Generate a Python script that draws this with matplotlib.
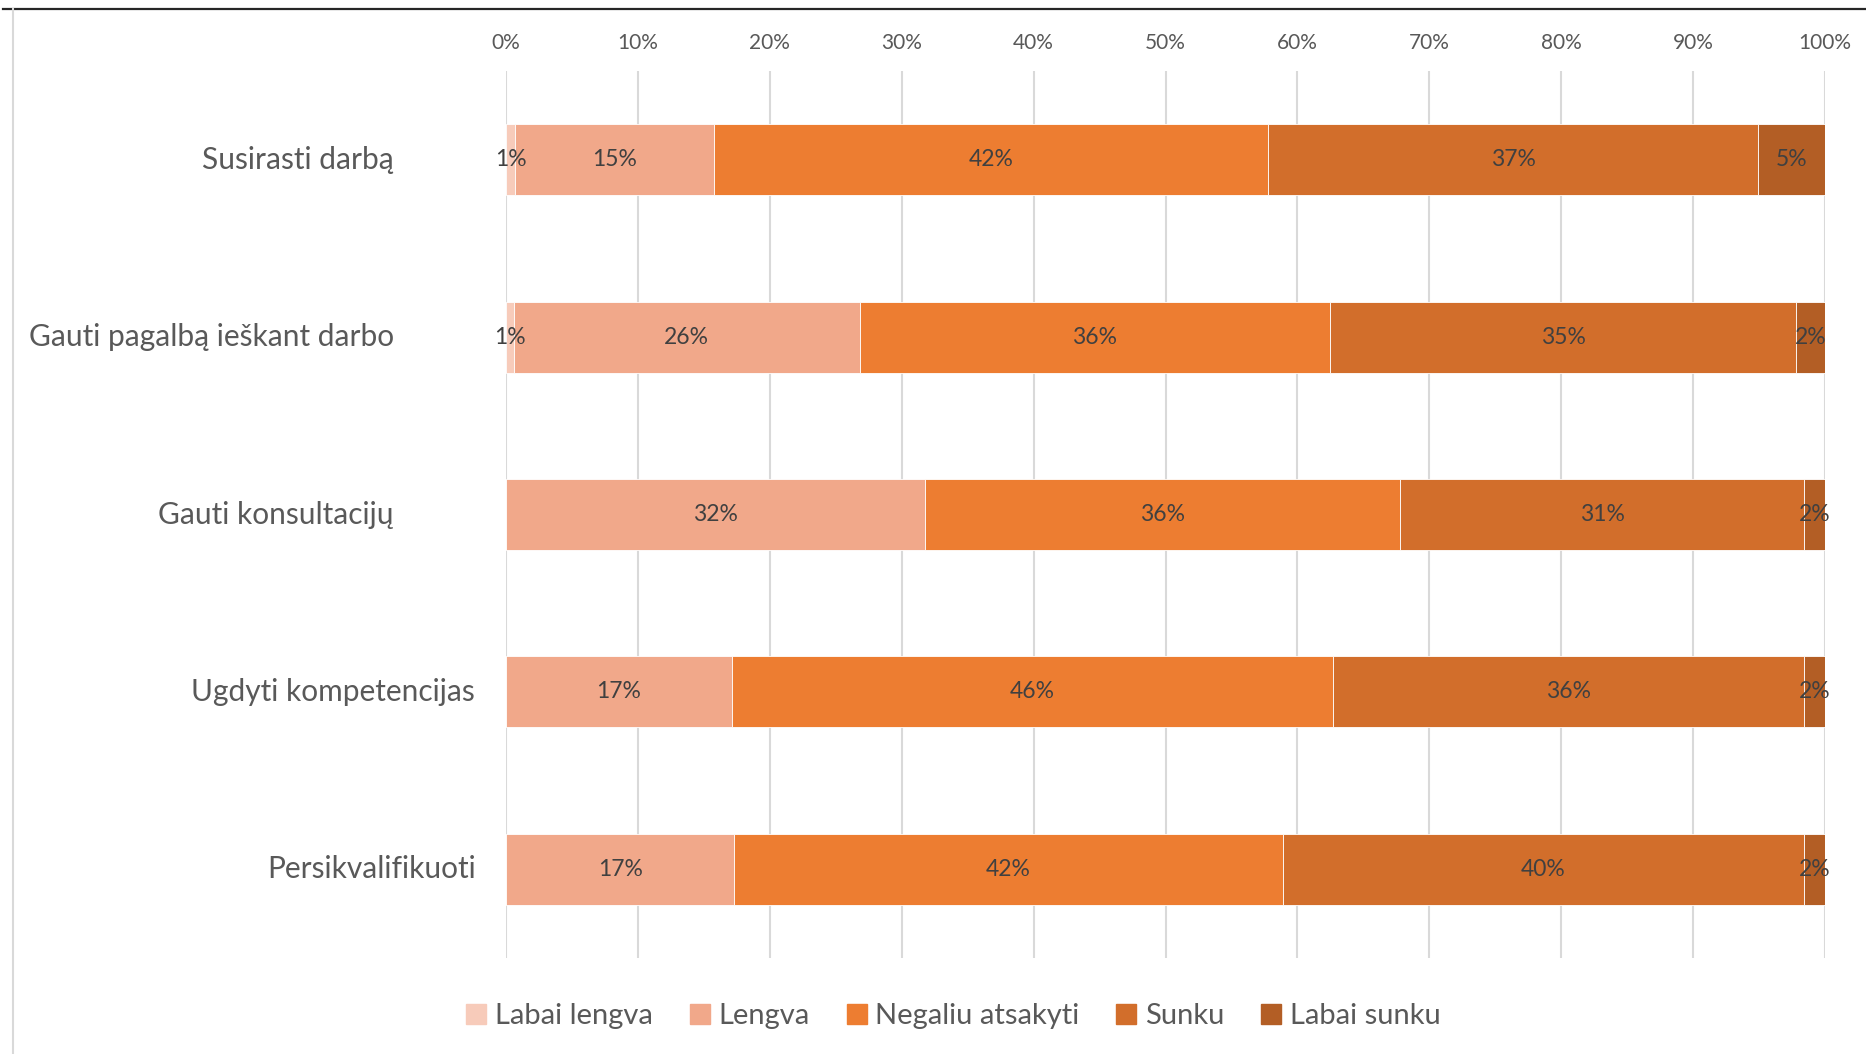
import matplotlib.pyplot as plt
from matplotlib.lines import Line2D
import numpy as np

plt.rcParams['font.family'] = ['Lato', 'DejaVu Sans']

# answers per activity, share of respondents (%)
categories = ['Susirasti darbą', 'Gauti pagalbą ieškant darbo', 'Gauti konsultacijų',
              'Ugdyti kompetencijas', 'Persikvalifikuoti']
labai_lengva = [0.7, 0.6, 0.0, 0.0, 0.0]
lengva = [15.1, 26.2, 31.8, 17.1, 17.3]
negaliu = [42.0, 35.7, 36.0, 45.6, 41.6]
sunku = [37.1, 35.3, 30.6, 35.7, 39.5]
labai_sunku = [5.1, 2.2, 1.6, 1.6, 1.6]

series_names = ['Labai lengva', 'Lengva', 'Negaliu atsakyti', 'Sunku', 'Labai sunku']
series = [labai_lengva, lengva, negaliu, sunku, labai_sunku]
colors = ['#F7CBBA', '#F1A88A', '#ED7D31', '#D26E2B', '#B35E25']
ticks = [0, 10, 20, 30, 40, 50, 60, 70, 80, 90, 100]

# right edge of each category label, in axes fraction (labels are not aligned)
label_right = [-0.085, -0.085, -0.085, -0.0235, -0.0227]

fig = plt.figure(figsize=(18.66, 10.54), dpi=100)
ax = fig.add_axes([0.2712, 0.0911, 0.7068, 0.8415])

y = np.arange(len(categories))
left = np.zeros(len(categories))
for name, vals, col in zip(series_names, series, colors):
    vals = np.array(vals)
    ax.barh(y, vals, left=left, height=0.4, color=col, edgecolor='white',
            linewidth=0.6, label=name, zorder=3)
    for yi, l, v in zip(y, left, vals):
        if v > 0:
            ax.text(l + v / 2, yi, f'{v:.0f}%', ha='center', va='center',
                    fontsize=16.5, color='#404040', zorder=4)
    left += vals

ax.set_xlim(0, 100)
ax.set_ylim(len(categories) - 0.5, -0.5)
ax.set_xticks(ticks)
ax.set_xticklabels([f'{t}%' for t in ticks], fontsize=15, color='#595959')
ax.xaxis.tick_top()
ax.tick_params(axis='x', length=0, pad=13)
ax.set_yticks([])
ax.grid(axis='x', color='#D9D9D9', linewidth=1.5, zorder=0)
for s in ax.spines.values():
    s.set_visible(False)

for yi, cat, xr in zip(y, categories, label_right):
    ax.text(xr, yi, cat, transform=ax.get_yaxis_transform(), ha='right',
            va='center', fontsize=21.5, color='#595959')

handles = [Line2D([], [], marker='s', linestyle='none', markersize=14,
                  markerfacecolor=c, markeredgecolor=c) for c in colors]
fig.legend(handles, series_names, loc='center', bbox_to_anchor=(0.511, 0.036),
           ncol=5, frameon=False, fontsize=21, handlelength=0.7,
           handletextpad=0.3, columnspacing=1.25, labelcolor='#595959')

# frame lines of the surrounding sheet
fig.add_artist(Line2D([0.0016, 1.0], [0.9915, 0.9915], color='#262626',
                      linewidth=1.6, transform=fig.transFigure))
fig.add_artist(Line2D([0.0070, 0.0070], [0.0, 0.9915], color='#D9D9D9',
                      linewidth=1.5, transform=fig.transFigure))

fig.savefig('out.png', dpi=100)
